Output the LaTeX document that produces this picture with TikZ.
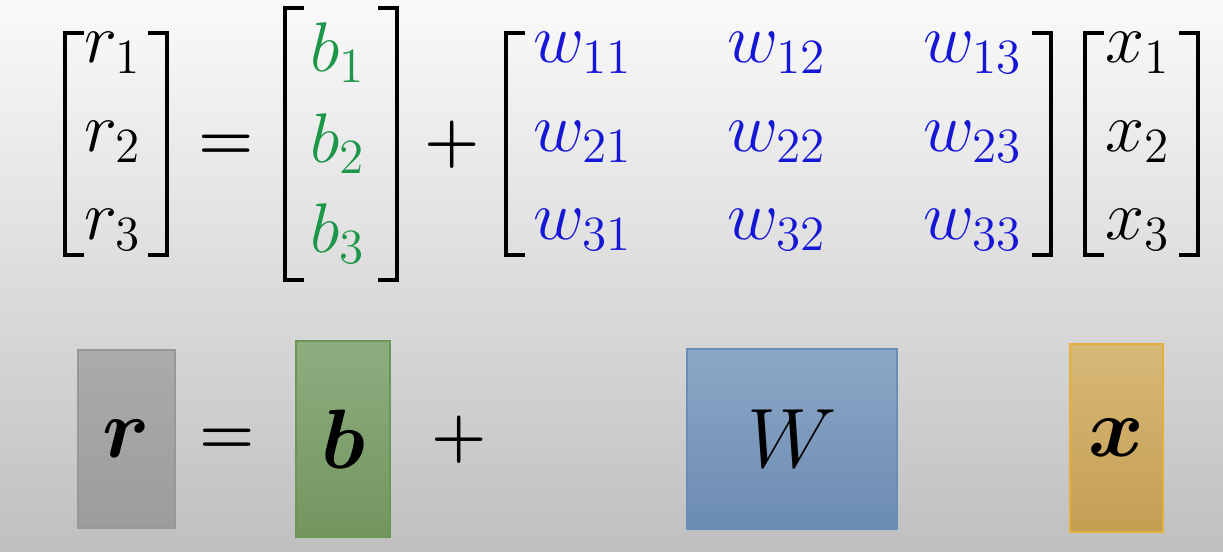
\RequirePackage{fix-cm}
\documentclass[tikz,border=0pt]{standalone}
\usepackage{amsmath,bm}
\usepackage{tikz}
\usepackage{xcolor}
\usetikzlibrary{positioning}

\definecolor{bgreen}{RGB}{28,150,72}
\definecolor{wblue}{RGB}{22,22,215}
\definecolor{rtop}{HTML}{ABABAB}\definecolor{rbot}{HTML}{9C9C9C}\definecolor{rline}{HTML}{989898}
\definecolor{btop}{HTML}{8DAD7F}\definecolor{bbot}{HTML}{73965F}\definecolor{bline}{HTML}{6A9755}
\definecolor{wtop}{HTML}{8CA8C7}\definecolor{wbot}{HTML}{6C8BB2}\definecolor{wline}{HTML}{6A8DB6}
\definecolor{xtop}{HTML}{D8B978}\definecolor{xbot}{HTML}{C49D52}\definecolor{xline}{HTML}{E2B13C}
\tikzset{
  entry/.style={anchor=base, inner sep=0pt, font=\fontsize{20}{24}\selectfont},
  opsign/.style={inner sep=0pt, font=\fontsize{18}{22}\selectfont},
  brk/.style={line width=1.2pt, line cap=butt},
  vecbox/.style={draw, line width=0.8pt, inner sep=0pt, font=\fontsize{24}{28}\selectfont}
}

\begin{document}
\begin{tikzpicture}
% Background
\shade[top color=white!98!black, bottom color=black!25] (0,0) rectangle (12.23,5.52);
\useasboundingbox (0,0) rectangle (12.23,5.52);

% Top row: entries
\foreach \i/\y in {1/4.89,2/4.00,3/3.12} {
  \node[entry] (r\i) at (1.13,\y) {$r_\i$};
  \foreach \j/\x in {1/5.83,2/7.77,3/9.73}
    \node[entry, text=wblue] (w\i\j) at (\x,\y) {$w_{\i\j}$};
  \node[entry] (x\i) at (11.38,\y) {$x_\i$};
}
\foreach \i/\y in {1/4.80,2/3.89,3/2.99}
  \node[entry, text=bgreen] (b\i) at (3.38,\y) {$b_\i$};

% Top row: signs
\node[opsign] (eqtop) at (2.26,4.05) {$\bm{=}$};
\node[opsign] (plustop) at (4.52,4.07) {$\bm{+}$};

% Brackets
\draw[brk] (0.84,5.19) -- (0.65,5.19) -- (0.65,2.97) -- (0.84,2.97);
\draw[brk] (1.48,5.19) -- (1.67,5.19) -- (1.67,2.97) -- (1.48,2.97);
\draw[brk] (3.04,5.44) -- (2.85,5.44) -- (2.85,2.72) -- (3.04,2.72);
\draw[brk] (3.78,5.44) -- (3.97,5.44) -- (3.97,2.72) -- (3.78,2.72);
\draw[brk] (5.25,5.19) -- (5.06,5.19) -- (5.06,2.97) -- (5.25,2.97);
\draw[brk] (10.32,5.19) -- (10.51,5.19) -- (10.51,2.97) -- (10.32,2.97);
\draw[brk] (11.04,5.19) -- (10.85,5.19) -- (10.85,2.97) -- (11.04,2.97);
\draw[brk] (11.79,5.19) -- (11.98,5.19) -- (11.98,2.97) -- (11.79,2.97);

% Bottom row: blocks
\node[vecbox, draw=rline, top color=rtop, bottom color=rbot,
  minimum width=0.97cm, minimum height=1.78cm] (rbox) at (1.265,1.13) {$\bm{r}$};
\node[vecbox, draw=bline, top color=btop, bottom color=bbot,
  minimum width=0.94cm, minimum height=1.96cm] (bbox) at (3.43,1.13) {$\bm{b}$};
\node[vecbox, draw=wline, top color=wtop, bottom color=wbot,
  minimum width=2.10cm, minimum height=1.80cm] (Wbox) at (7.92,1.13) {$W$};
\node[vecbox, draw=xline, top color=xtop, bottom color=xbot,
  minimum width=0.93cm, minimum height=1.88cm] (xbox) at (11.165,1.14) {$\bm{x}$};

% Bottom row: signs
\node[opsign] (eqbot) at (2.27,1.11) {$\bm{=}$};
\node[opsign] (plusbot) at (4.59,1.12) {$\bm{+}$};
\end{tikzpicture}
\end{document}
